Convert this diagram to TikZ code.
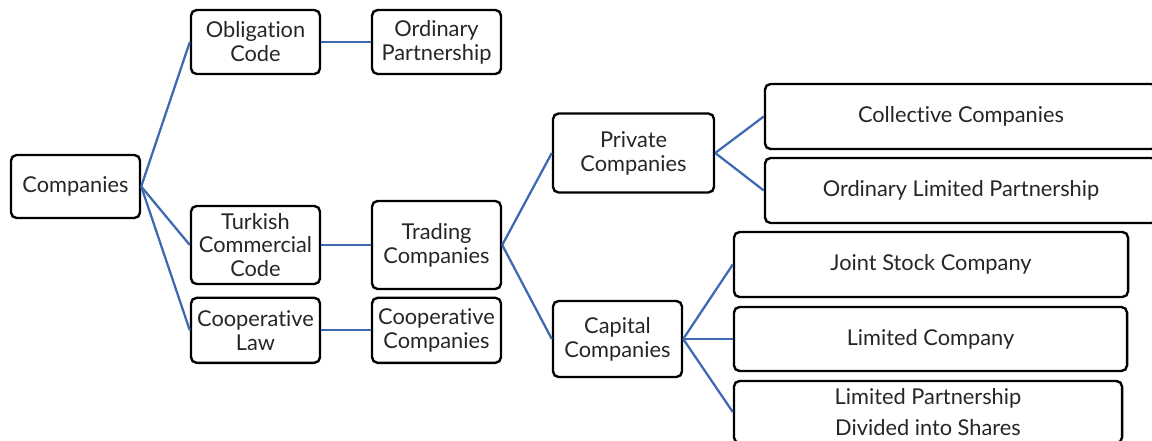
\documentclass[tikz,border=0pt]{standalone}
\usepackage{fontspec}
\setmainfont{Lato}[Ligatures=NoCommon]
\usepackage{tikz}
\definecolor{linkblue}{RGB}{61,104,178}

\begin{document}
\begin{tikzpicture}[x=0.025cm, y=-0.025cm,
    box/.style={draw, line width=1.7pt, rounded corners=4pt, align=center, inner sep=0pt,
      font=\fontsize{15.5}{17}\selectfont, text=black!85},
    link/.style={draw=linkblue, line width=1.6pt}]
      \clip (0,0) rectangle (1152,441);
      \node[box, minimum width=3.225cm, minimum height=1.575cm] (comp) at (75.5,186.5) {Companies};
      \node[box, minimum width=3.225cm, minimum height=1.6cm] (oblig) at (255.5,42) {Obligation\\Code};
      \node[box, minimum width=3.225cm, minimum height=1.6cm] (ordp) at (436.5,42) {Ordinary\\Partnership};
      \node[box, minimum width=3.225cm, minimum height=1.95cm] (tcc) at (255.5,245) {Turkish\\Commercial\\Code};
      \node[box, minimum width=3.225cm, minimum height=2.2cm] (trade) at (436.5,245) {Trading\\Companies};
      \node[box, minimum width=3.225cm, minimum height=1.625cm] (coopl) at (255.5,330.3) {Cooperative\\Law};
      \node[box, minimum width=3.225cm, minimum height=1.625cm] (coopc) at (436.5,330.3) {Cooperative\\Companies};
      \node[box, minimum width=4.025cm, minimum height=1.975cm] (priv) at (633.5,153) {Private\\Companies};
      \node[box, minimum width=3.225cm, minimum height=1.9cm] (capc) at (617.5,339) {Capital\\Companies};
      \node[box, minimum width=9.8cm, minimum height=1.625cm] (coll) at (961,116.5) {Collective Companies};
      \node[box, minimum width=9.8cm, minimum height=1.625cm] (oltd) at (961,190.5) {Ordinary Limited Partnership};
      \node[box, minimum width=9.85cm, minimum height=1.625cm] (joint) at (931,264.5) {Joint Stock Company};
      \node[box, minimum width=9.825cm, minimum height=1.6cm] (ltdc) at (930.5,339) {Limited Company};
      \node[box, minimum width=9.7cm, minimum height=1.55cm, font=\fontsize{15.5}{22.5}\selectfont] (lpds) at (928,412) {Limited Partnership\\Divided into Shares};
      \draw[link] (comp.east) -- (oblig.west);
      \draw[link] (comp.east) -- (tcc.west);
      \draw[link] (comp.east) -- (coopl.west);
      \draw[link] (oblig) -- (ordp);
      \draw[link] (tcc) -- (trade);
      \draw[link] (coopl) -- (coopc);
      \draw[link] (trade.east) -- (priv.west);
      \draw[link] (trade.east) -- (capc.west);
      \draw[link] (priv.east) -- (coll.west);
      \draw[link] (priv.east) -- (oltd.west);
      \draw[link] (capc.east) -- (joint.west);
      \draw[link] (capc.east) -- (ltdc.west);
      \draw[link] (capc.east) -- (lpds.west);
    \end{tikzpicture}
\end{document}
